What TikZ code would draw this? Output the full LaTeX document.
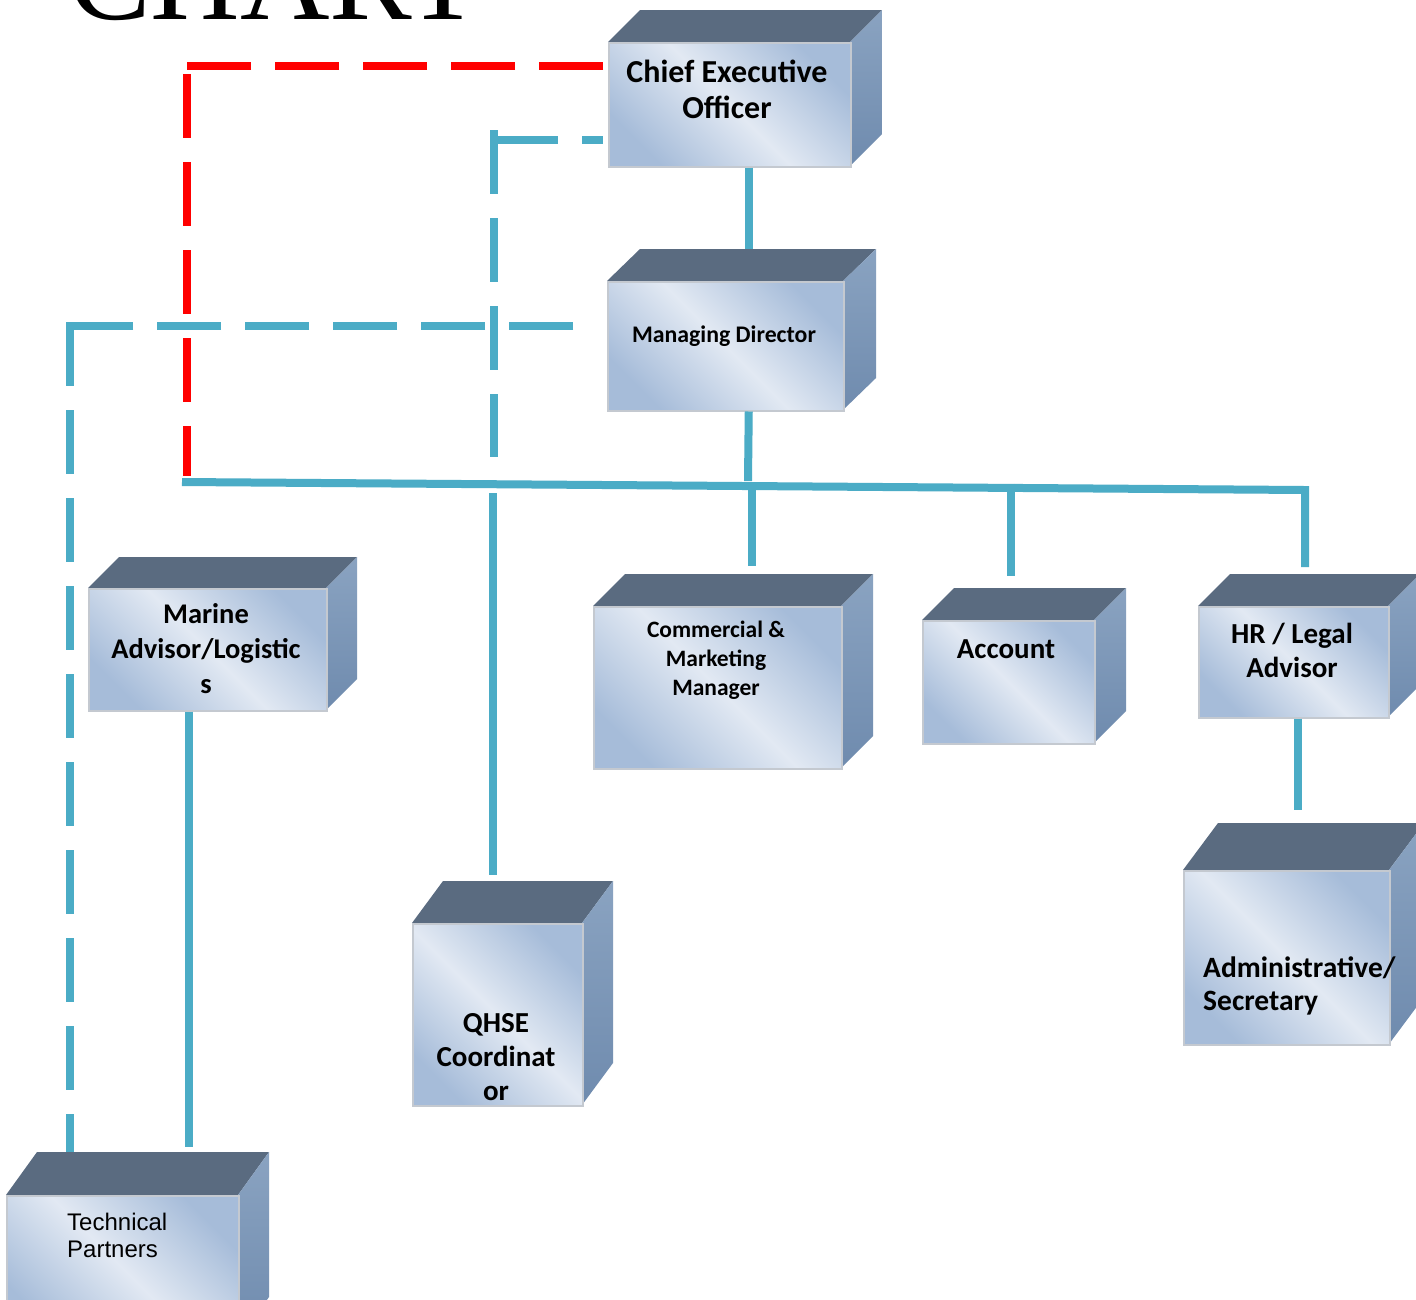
\documentclass[tikz,border=0pt]{standalone}
\usepackage{fontspec}
\setmainfont{Carlito}
\newfontfamily\arialf{Liberation Sans}
\newfontfamily\timesf{Liberation Serif}
\usetikzlibrary{calc}
\definecolor{topc}{HTML}{5A6B80}
\definecolor{sidec}{HTML}{8AA3C1}
\definecolor{sided}{HTML}{6F8BAE}
\definecolor{frontd}{HTML}{A6BCD9}
\definecolor{frontl}{HTML}{E2E9F3}
\definecolor{bl}{HTML}{4BACC6}
\definecolor{edgec}{HTML}{C4C9D0}
\tikzset{
  topface/.style={fill=topc},
  sideface/.style={top color=sidec, bottom color=sided},
  frontface/.style={draw=edgec, line width=1.5pt, left color=frontd, right color=frontd, middle color=frontl, shading angle=-45, inner sep=0pt, anchor=north west},
  bline/.style={draw=bl, line width=8pt},
  bdash/.style={draw=bl, line width=8pt, dash pattern=on 64pt off 24pt},
  rdash/.style={draw=red, line width=8pt, dash pattern=on 64pt off 24pt},
  lbl/.style={font=\bfseries, align=center, inner sep=0pt, text=black},
}
\newcommand\orgcube[7]{%
  \fill[topface] (#2,#3) -- ({#2+#6},{#3-#7}) -- ({#4+#6},{#3-#7}) -- (#4,#3) -- cycle;
  \path[sideface] (#4,#3) -- ({#4+#6},{#3-#7}) -- ({#4+#6},{#5-#7}) -- (#4,#5) -- cycle;
  \node[frontface, minimum width={(#4-#2)*1pt}, minimum height={(#5-#3)*1pt}] (#1) at (#2,#3) {};
  \coordinate (#1-bk) at ({#2+#6},{#3-#7});
}
\begin{document}
\begin{tikzpicture}[x=1pt,y=-1pt]
\useasboundingbox (0,0) rectangle (1416,1299);
\clip (0,0) rectangle (1416,1299);
\fill[white] (0,0) rectangle (1416,1299);

% title (cut off at top)
\node[anchor=base west, inner sep=0pt, font=\timesf\fontsize{124}{124}\selectfont] (title) at (68,19) {CHART};

% cubes
\orgcube{ceo}{608}{42}{850}{166}{32}{32}
\orgcube{md}{607}{281}{843}{410}{33}{32}
\orgcube{marine}{88}{588}{326}{710}{31}{31}
\orgcube{comm}{593}{606}{841}{768}{32}{32}
\orgcube{acct}{922}{620}{1094}{743}{32}{32}
\orgcube{hr}{1198}{606}{1388}{717}{32}{32}
\orgcube{admin}{1183}{870}{1389}{1044}{35}{47}
\orgcube{qhse}{412}{923}{582}{1105}{31}{42}
\orgcube{tech}{6}{1195}{238}{1340}{31}{43}

% labels (anchor base = last line's baseline)
\node[lbl, font=\bfseries\fontsize{32}{36}\selectfont, anchor=base] (ceo-t) at (727,118) {Chief Executive\\Officer};
\node[lbl, font=\bfseries\fontsize{23.8}{26}\selectfont, anchor=base] (md-t) at (724,342) {Managing Director};
\node[lbl, font=\bfseries\fontsize{28.5}{35}\selectfont, anchor=base] (marine-t) at (206,693) {Marine\\Advisor/Logistic\\s};
\node[lbl, font=\bfseries\fontsize{23.5}{29}\selectfont, anchor=base] (comm-t) at (716,695) {Commercial \&\\Marketing\\Manager};
\node[lbl, font=\bfseries\fontsize{29}{33}\selectfont, anchor=base] (acct-t) at (1006,658) {Account};
\node[lbl, font=\bfseries\fontsize{29}{34}\selectfont, anchor=base] (hr-t) at (1292,677) {HR / Legal\\Advisor};
\node[lbl, align=left, font=\bfseries\fontsize{29.5}{33}\selectfont, anchor=base west] (admin-t) at (1203,1010) {Administrative/\\Secretary};
\node[lbl, font=\bfseries\fontsize{29}{34}\selectfont, anchor=base] (qhse-t) at (496,1100) {QHSE\\Coordinat\\or};
\node[lbl, align=left, font=\arialf\fontsize{24}{27}\selectfont, anchor=base west] (tech-t) at (67,1257) {Technical\\Partners};

% bus and named points
\coordinate (busL) at (182,482);
\coordinate (busR) at (1305,490);
\coordinate (b748) at ($(busL)!{(748-182)/1123}!(busR)$);
\coordinate (b752) at ($(busL)!{(752-182)/1123}!(busR)$);
\coordinate (b1011) at ($(busL)!{(1011-182)/1123}!(busR)$);
\coordinate (b493) at ($(busL)!{(493-182)/1123}!(busR)$);

% dashed reporting lines
\coordinate (rc) at (187,66);
\draw[rdash] ($(ceo.west |- rc)+(-5,0)$) -- (rc) ($(rc)+(0,8)$) -- (rc |- 0,476);
\coordinate (qc) at (494,140);
\draw[bdash] (qc) -- ($(ceo.west |- qc)+(-5,0)$) ($(qc)+(0,-10)$) -- (qc |- 0,457);
\coordinate (lc) at (70,326);
\draw[bdash] ($(md.west |- lc)+(-34,0)$) -- (lc) ($(lc)+(0,-4)$) -- (lc |- tech-bk) ;

% solid connectors
\draw[bline] (busL) -- (busR) -- ($(busR |- hr-bk)+(0,-7)$);
\draw[bline] ([xshift=19pt]ceo.south) -- ([xshift=19pt]ceo.south |- md-bk);
\draw[bline] ([xshift=23pt]md.south) -- ($(b748)+(0,-5)$);
\draw[bline] (b752) -- ($(b752 |- comm-bk)+(0,-8)$);
\draw[bline] ($(b1011)+(0,-4)$) -- ($(b1011 |- acct-bk)+(0,-12)$);
\draw[bline] ($(b493)+(0,9)$) -- ($(b493 |- qhse-bk)+(0,-6)$);
\draw[bline] ([xshift=-19pt]marine.south) -- ($([xshift=-19pt]marine.south |- tech-bk)+(0,-5)$);
\draw[bline] ([xshift=4pt]hr.south) -- ($([xshift=4pt]hr.south |- admin-bk)+(0,-13)$);
\end{tikzpicture}
\end{document}
